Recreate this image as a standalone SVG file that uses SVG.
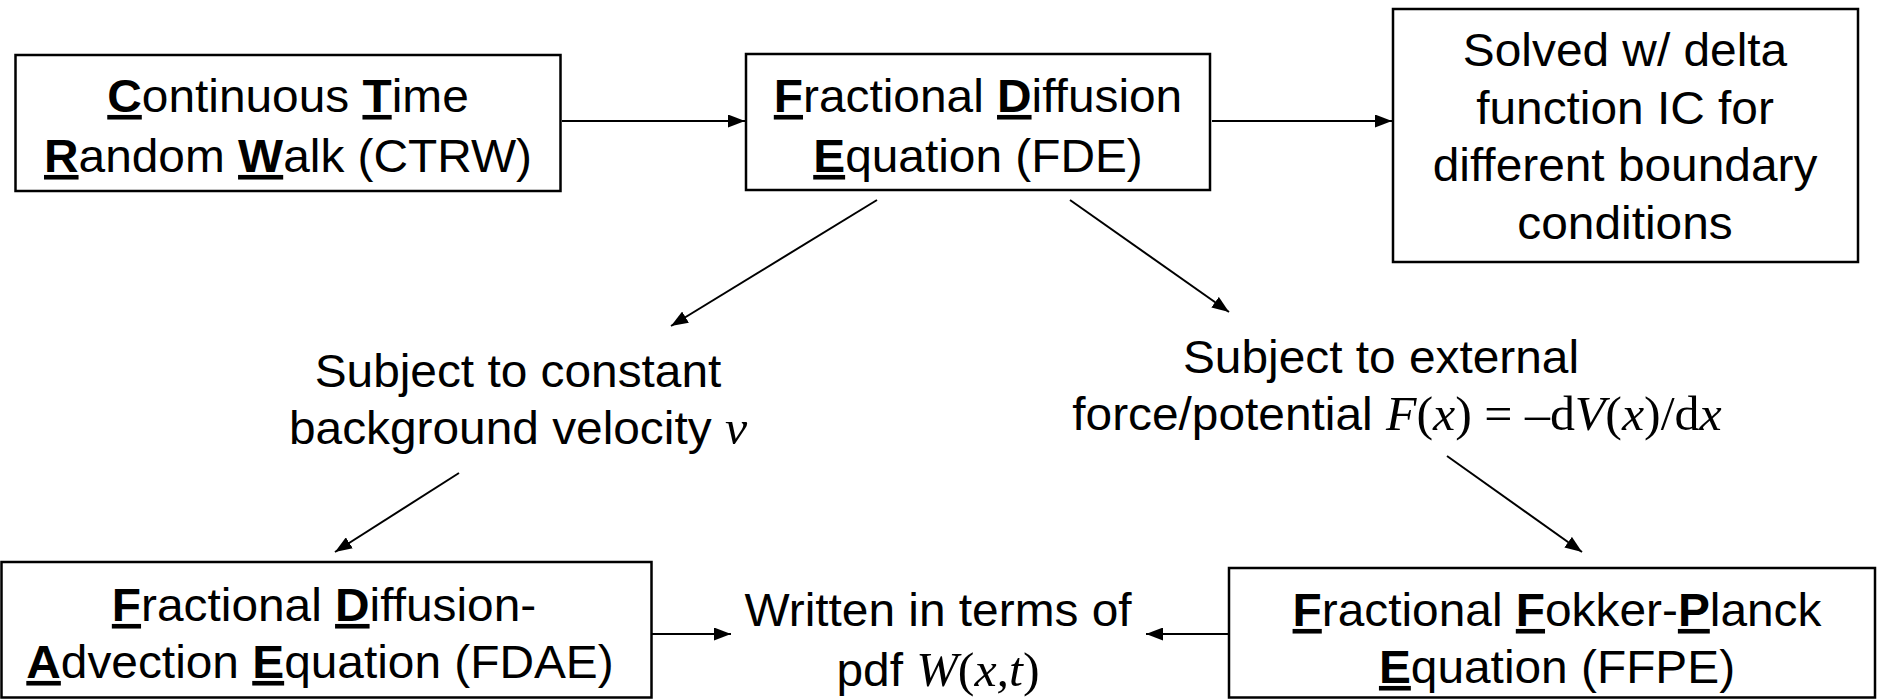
<svg xmlns="http://www.w3.org/2000/svg" width="1877" height="699" viewBox="0 0 1877 699">
<style>
.box{fill:#fff;stroke:#000;stroke-width:2.5}
.t{font-family:"Liberation Sans",Arial,sans-serif;font-size:46px;fill:#000;text-anchor:middle}
.b{font-weight:bold;text-decoration:underline;text-decoration-thickness:4px}
.m{font-family:"Liberation Serif","Times New Roman",serif;font-size:48px}
.i{font-style:italic}
.c{stroke:#000;stroke-width:2;fill:none;marker-end:url(#ah)}
</style>
<defs>
<marker id="ah" viewBox="0 0 10 10" refX="10" refY="5" markerWidth="17" markerHeight="13" markerUnits="userSpaceOnUse" orient="auto" preserveAspectRatio="none">
<path d="M0,0 L10,5 L0,10 z" fill="#000"/>
</marker>
</defs>
<rect width="1877" height="699" fill="#fff"/>
<g id="connectors">
<line class="c" x1="562" y1="121" x2="745" y2="121"/>
<line class="c" x1="1212" y1="121" x2="1392" y2="121"/>
<line class="c" x1="877" y1="200" x2="671" y2="326"/>
<line class="c" x1="1070" y1="200" x2="1229" y2="312"/>
<line class="c" x1="459" y1="473" x2="335" y2="552"/>
<line class="c" x1="1447" y1="456" x2="1582" y2="552"/>
<line class="c" x1="652" y1="634" x2="731" y2="634"/>
<line class="c" x1="1229" y1="634" x2="1146" y2="634"/>
</g>
<g id="ctrw">
<rect class="box" x="15.5" y="55" width="545" height="136"/>
<text class="t" transform="translate(288,112) scale(1.04,1)"><tspan class="b">C</tspan>ontinuous <tspan class="b">T</tspan>ime</text>
<text class="t" transform="translate(288,172) scale(1.04,1)"><tspan class="b">R</tspan>andom <tspan class="b">W</tspan>alk (CTRW)</text>
</g>
<g id="fde">
<rect class="box" x="746" y="54" width="464" height="136"/>
<text class="t" transform="translate(978,112) scale(1.04,1)"><tspan class="b">F</tspan>ractional <tspan class="b">D</tspan>iffusion</text>
<text class="t" transform="translate(978,172) scale(1.04,1)"><tspan class="b">E</tspan>quation (FDE)</text>
</g>
<g id="solved">
<rect class="box" x="1393" y="9" width="465" height="253"/>
<text class="t" transform="translate(1625,66) scale(1.04,1)">Solved w/ delta</text>
<text class="t" transform="translate(1625,124) scale(1.04,1)">function IC for</text>
<text class="t" transform="translate(1625,181) scale(1.04,1)">different boundary</text>
<text class="t" transform="translate(1625,239) scale(1.04,1)">conditions</text>
</g>
<g id="velocity">
<text class="t" transform="translate(518,387) scale(1.04,1)">Subject to constant</text>
<text class="t" transform="translate(518,444) scale(1.04,1)">background velocity <tspan class="m i">v</tspan></text>
</g>
<g id="force">
<text class="t" transform="translate(1381,373) scale(1.04,1)">Subject to external</text>
<text class="t" transform="translate(1397,430) scale(1.04,1)">force/potential <tspan class="m"><tspan class="i">F</tspan>(<tspan class="i">x</tspan>) = –d<tspan class="i">V</tspan>(<tspan class="i">x</tspan>)/d<tspan class="i">x</tspan></tspan></text>
</g>
<g id="fdae">
<rect class="box" x="1.5" y="562" width="650" height="135.5"/>
<text class="t" transform="translate(324,621) scale(1.04,1)"><tspan class="b">F</tspan>ractional <tspan class="b">D</tspan>iffusion-</text>
<text class="t" transform="translate(320,678) scale(1.04,1)"><tspan class="b">A</tspan>dvection <tspan class="b">E</tspan>quation (FDAE)</text>
</g>
<g id="written">
<text class="t" transform="translate(938,626) scale(1.04,1)">Written in terms of</text>
<text class="t" transform="translate(938,686) scale(1.04,1)">pdf <tspan class="m"><tspan class="i">W</tspan>(<tspan class="i">x,t</tspan>)</tspan></text>
</g>
<g id="ffpe">
<rect class="box" x="1229" y="568" width="646" height="129.5"/>
<text class="t" transform="translate(1557,626) scale(1.04,1)"><tspan class="b">F</tspan>ractional <tspan class="b">F</tspan>okker-<tspan class="b">P</tspan>lanck</text>
<text class="t" transform="translate(1557,683) scale(1.04,1)"><tspan class="b">E</tspan>quation (FFPE)</text>
</g>
</svg>
